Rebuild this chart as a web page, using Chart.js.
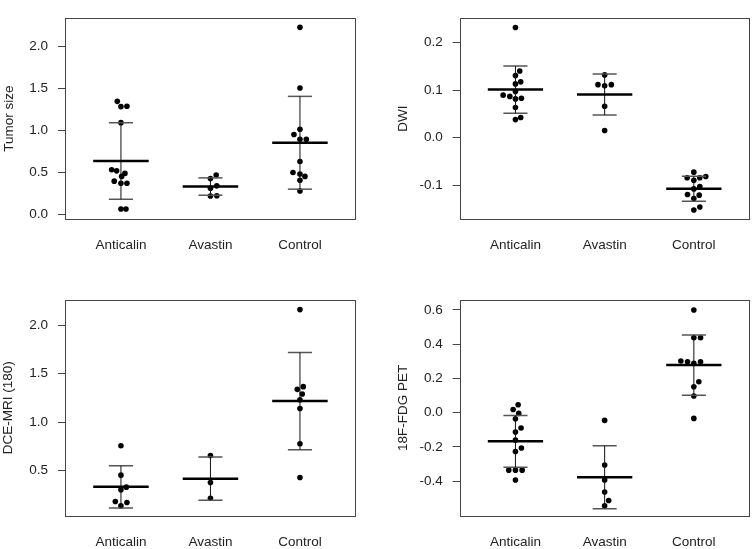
<!DOCTYPE html>
<html>
<head>
<meta charset="utf-8">
<script src="https://cdn.jsdelivr.net/npm/chart.js@4.4.1/dist/chart.umd.min.js"></script>
<style>
    html, body { margin: 0; padding: 0; background: #fff; }
    #wrap { position: relative; width: 754px; height: 549px; }
    canvas { position: absolute; }
</style>
</head>
<body>
<div id="wrap">
    <canvas id="tumor" width="377" height="275" style="left:0;top:0"></canvas>
    <canvas id="dwi" width="377" height="275" style="left:377px;top:0"></canvas>
    <canvas id="dce" width="377" height="274" style="left:0;top:275px"></canvas>
    <canvas id="pet" width="377" height="274" style="left:377px;top:275px"></canvas>
</div>
<script>
const groups = ['Anticalin', 'Avastin', 'Control'];

// each point: [x (group position with beeswarm offset), value]
const tumorAnticalin = [[0.959, 1.343], [1.0, 1.28], [1.067, 1.285], [1.0, 1.09], [0.896, 0.531], [0.952, 0.517], [1.045, 0.487], [1.008, 0.451], [0.925, 0.395], [1.0, 0.369], [1.067, 0.369], [1.0, 0.063], [1.056, 0.063]];
const tumorAvastin = [[2.064, 0.468], [2.0, 0.426], [2.071, 0.339], [2.0, 0.31], [2.0, 0.218], [2.071, 0.222]];
const tumorControl = [[3.0, 2.222], [3.0, 1.502], [3.0, 1.011], [2.933, 0.949], [3.0, 0.893], [3.071, 0.893], [3.0, 0.628], [2.922, 0.498], [3.0, 0.479], [3.056, 0.451], [3.0, 0.406], [3.0, 0.277]];
const tumorTicks = [0, 0.5, 1, 1.5, 2];

const dwiAnticalin = [[1.0, 0.2316], [1.048, 0.140], [1.0, 0.1305], [1.059, 0.1174], [1.0, 0.113], [1.0, 0.0972], [0.862, 0.0894], [0.937, 0.0868], [1.067, 0.083], [1.0, 0.0815], [1.0, 0.0634], [1.059, 0.0425], [1.0, 0.038]];
const dwiAvastin = [[2.0, 0.132], [1.925, 0.1115], [2.075, 0.1115], [2.0, 0.109], [2.0, 0.066], [2.0, 0.015]];
const dwiControl = [[3.0, -0.0724], [2.925, -0.0842], [3.067, -0.0842], [3.134, -0.0816], [3.0, -0.0894], [3.067, -0.1024], [3.0, -0.1076], [2.929, -0.1194], [3.06, -0.1207], [3.0, -0.1279], [3.067, -0.1455], [3.0, -0.152]];
const dwiTicks = [-0.1, 0, 0.1, 0.2];

const dceAnticalin = [[1.0, 0.755], [1.0, 0.452], [1.0, 0.30], [1.06, 0.328], [0.937, 0.179], [1.067, 0.169], [1.0, 0.134]];
const dceAvastin = [[2.0, 0.655], [2.0, 0.376], [2.0, 0.214]];
const dceControl = [[3.0, 2.162], [2.97, 1.338], [3.037, 1.366], [3.026, 1.29], [3.0, 1.231], [3.0, 1.141], [3.0, 0.776], [3.0, 0.428]];
const dceTicks = [0.5, 1, 1.5, 2];

const petAnticalin = [[1.03, 0.047], [0.974, 0.019], [1.037, -0.004], [1.0, -0.035], [1.063, -0.0895], [1.0, -0.113], [1.0, -0.16], [1.067, -0.206], [1.0, -0.226], [0.925, -0.335], [1.0, -0.335], [1.075, -0.335], [1.0, -0.393]];
const petAvastin = [[2.0, -0.0447], [2.0, -0.305], [2.0, -0.393], [2.0, -0.463], [2.045, -0.512], [2.0, -0.543]];
const petControl = [[3.0, 0.5995], [3.0, 0.438], [3.075, 0.438], [2.854, 0.302], [2.929, 0.298], [3.0, 0.288], [3.075, 0.298], [3.056, 0.181], [3.0, 0.152], [3.0, 0.0975], [3.0, -0.033]];
const petTicks = [-0.4, -0.2, 0, 0.2, 0.4, 0.6];

const FONT = { family: '"Liberation Sans", Arial, sans-serif', size: 13.5 };
const TEXT = '#222';

function mean(pts) {
    return pts.reduce((s, p) => s + p[1], 0) / pts.length;
}

function sd(pts) {
    const m = mean(pts);
    return Math.sqrt(pts.reduce((s, p) => s + (p[1] - m) ** 2, 0) / (pts.length - 1));
}

function segment(x1, y1, x2, y2, color, width) {
    return {
        type: 'line',
        data: [{ x: x1, y: y1 }, { x: x2, y: y2 }],
        borderColor: color,
        borderWidth: width,
        pointRadius: 0,
        showLine: true,
        order: 0
    };
}

// plot frame like R's box()
const frame = {
    id: 'frame',
    afterDraw(chart) {
        const a = chart.chartArea;
        const ctx = chart.ctx;
        ctx.save();
        ctx.strokeStyle = '#444';
        ctx.lineWidth = 1;
        ctx.strokeRect(Math.round(a.left) + 0.5, Math.round(a.top) + 0.5,
            Math.round(a.right - a.left), Math.round(a.bottom - a.top));
        ctx.restore();
    }
};

function makePanel(id, title, series, ticks, yMin, yMax, box) {
    const datasets = [];
    series.forEach((pts, i) => {
        const g = i + 1;
        const m = mean(pts);
        const s = sd(pts);
        datasets.push(segment(g - 0.31, m, g + 0.31, m, '#000', 2.5));
        datasets.push(segment(g, m - s, g, m + s, '#111', 1));
        datasets.push(segment(g - 0.135, m + s, g + 0.135, m + s, '#555', 1.5));
        datasets.push(segment(g - 0.135, m - s, g + 0.135, m - s, '#555', 1.5));
        datasets.push({
            type: 'scatter',
            data: pts.map(p => ({ x: p[0], y: p[1] })),
            backgroundColor: '#000',
            borderWidth: 0,
            pointRadius: 2.8,
            order: 1
        });
    });

    const canvas = document.getElementById(id);
    new Chart(canvas, {
        type: 'scatter',
        data: { datasets },
        options: {
            responsive: false,
            animation: false,
            layout: {
                padding: { left: 0, top: box.top, right: canvas.width - box.right, bottom: 0 }
            },
            plugins: {
                legend: { display: false },
                tooltip: { enabled: false }
            },
            scales: {
                x: {
                    type: 'linear',
                    min: 0.375,
                    max: 3.615,
                    afterBuildTicks: (scale) => { scale.ticks = groups.map((_, i) => ({ value: i + 1 })); },
                    afterFit: (scale) => { scale.height = canvas.height - box.bottom; },
                    grid: { display: false, drawTicks: false },
                    border: { display: false },
                    ticks: {
                        color: TEXT,
                        font: FONT,
                        padding: 18,
                        maxRotation: 0,
                        callback: (v) => groups[v - 1]
                    }
                },
                y: {
                    min: yMin,
                    max: yMax,
                    afterBuildTicks: (scale) => { scale.ticks = ticks.map(v => ({ value: v })); },
                    afterFit: (scale) => { scale.width = box.left; },
                    grid: { drawOnChartArea: false, drawTicks: true, tickLength: 7, color: '#444' },
                    border: { display: false },
                    ticks: {
                        color: TEXT,
                        font: FONT,
                        padding: 10,
                        callback: (v) => v.toFixed(1)
                    },
                    title: {
                        display: true,
                        text: title,
                        color: TEXT,
                        font: FONT,
                        padding: { top: box.titleGap, bottom: 0 }
                    }
                }
            }
        },
        plugins: [frame]
    });
}

makePanel('tumor', 'Tumor size', [tumorAnticalin, tumorAvastin, tumorControl], tumorTicks, -0.055, 2.332,
    { left: 65, top: 3.3, right: 355, bottom: 219, titleGap: 1 });
makePanel('dwi', 'DWI', [dwiAnticalin, dwiAvastin, dwiControl], dwiTicks, -0.1708, 0.2513,
    { left: 82.7, top: 3.3, right: 371.7, bottom: 219, titleGap: 18.6 });
makePanel('dce', 'DCE-MRI (180)', [dceAnticalin, dceAvastin, dceControl], dceTicks, 0.033, 2.261,
    { left: 65, top: 25, right: 355, bottom: 240.7, titleGap: 0.2 });
makePanel('pet', '18F-FDG PET', [petAnticalin, petAvastin, petControl], petTicks, -0.601, 0.658,
    { left: 82.7, top: 25, right: 371.7, bottom: 240.7, titleGap: 18.6 });
</script>
</body>
</html>
